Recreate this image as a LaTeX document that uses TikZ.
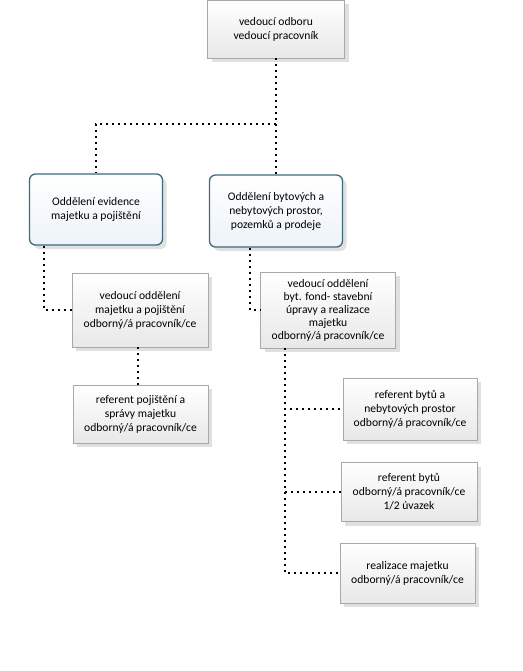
\documentclass[tikz,border=0pt]{standalone}
\usepackage{fontspec}
\setmainfont{Carlito}
\usetikzlibrary{positioning,shadows}
\definecolor{deptline}{HTML}{3D6B7C}
\definecolor{deptfill}{HTML}{EDF3F9}
\definecolor{boxline}{HTML}{A8A8A8}
\tikzset{
  orgbox/.style={draw=boxline, line width=0.6pt, align=center, inner sep=2pt,
    font=\fontsize{11.6}{14}\selectfont, top color=white, bottom color=black!9,
    drop shadow={shadow xshift=4pt, shadow yshift=-4pt, fill=black, opacity=0.12}},
  deptbox/.style={orgbox, draw=deptline, line width=1.3pt, rounded corners=6pt,
    top color=white, bottom color=deptfill},
  link/.style={line width=2pt, dash pattern=on 2pt off 4pt, line cap=butt}
}
\begin{document}
\begin{tikzpicture}[x=1pt, y=-1pt]
  \useasboundingbox (0,0) rectangle (522,671);
  % vedení odboru
  \node[orgbox, minimum width=137pt, minimum height=58pt] (head) at (276,29) {vedoucí odboru\\vedoucí pracovník};
  % oddělení
  \node[deptbox, minimum width=133pt, minimum height=71pt] (evid) at (96,209.5) {Oddělení evidence\\majetku a pojištění};
  \node[deptbox, minimum width=133pt, minimum height=72pt] (byty) at (276,211) {Oddělení bytových a\\nebytových prostor,\\pozemků a prodeje};
  % levá větev
  \node[orgbox, minimum width=136pt, minimum height=74pt] (evidboss) at (140,310) {vedoucí oddělení\\majetku a pojištění\\odborný/á pracovník/ce};
  \node[orgbox, minimum width=135pt, minimum height=58pt] (pojist) at (140.5,414) {referent pojištění a\\správy majetku\\odborný/á pracovník/ce};
  % pravá větev
  \node[orgbox, minimum width=135pt, minimum height=76pt, font=\fontsize{11.6}{13}\selectfont] (bytyboss) at (328,310) {vedoucí oddělení\\byt. fond- stavební\\úpravy a realizace\\majetku\\odborný/á pracovník/ce};
  \node[orgbox, minimum width=134pt, minimum height=62pt] (refnb) at (410,409) {referent bytů a\\nebytových prostor\\odborný/á pracovník/ce};
  \node[orgbox, minimum width=136pt, minimum height=59pt] (refb) at (409,492) {referent bytů\\odborný/á pracovník/ce\\1/2 úvazek};
  \node[orgbox, minimum width=135pt, minimum height=60pt] (real) at (407.5,573) {realizace majetku\\odborný/á pracovník/ce};

  \coordinate (hub) at (276,124);
  \draw[link] (head) -- (byty);
  \draw[link] (hub) -| (evid);
  \draw[link] ([xshift=-52pt]evid.south) |- (evidboss.west);
  \draw[link] ([xshift=-2pt]evidboss.south) -- ([xshift=-2.5pt]pojist.north);
  \draw[link] ([xshift=-26pt]byty.south) |- (bytyboss.west);
  \draw[link] ([xshift=-43pt]bytyboss.south) |- (refnb.west);
  \draw[link] ([xshift=-43pt]bytyboss.south) |- (refb.west);
  \draw[link] ([xshift=-43pt]bytyboss.south) |- (real.west);
\end{tikzpicture}
\end{document}
